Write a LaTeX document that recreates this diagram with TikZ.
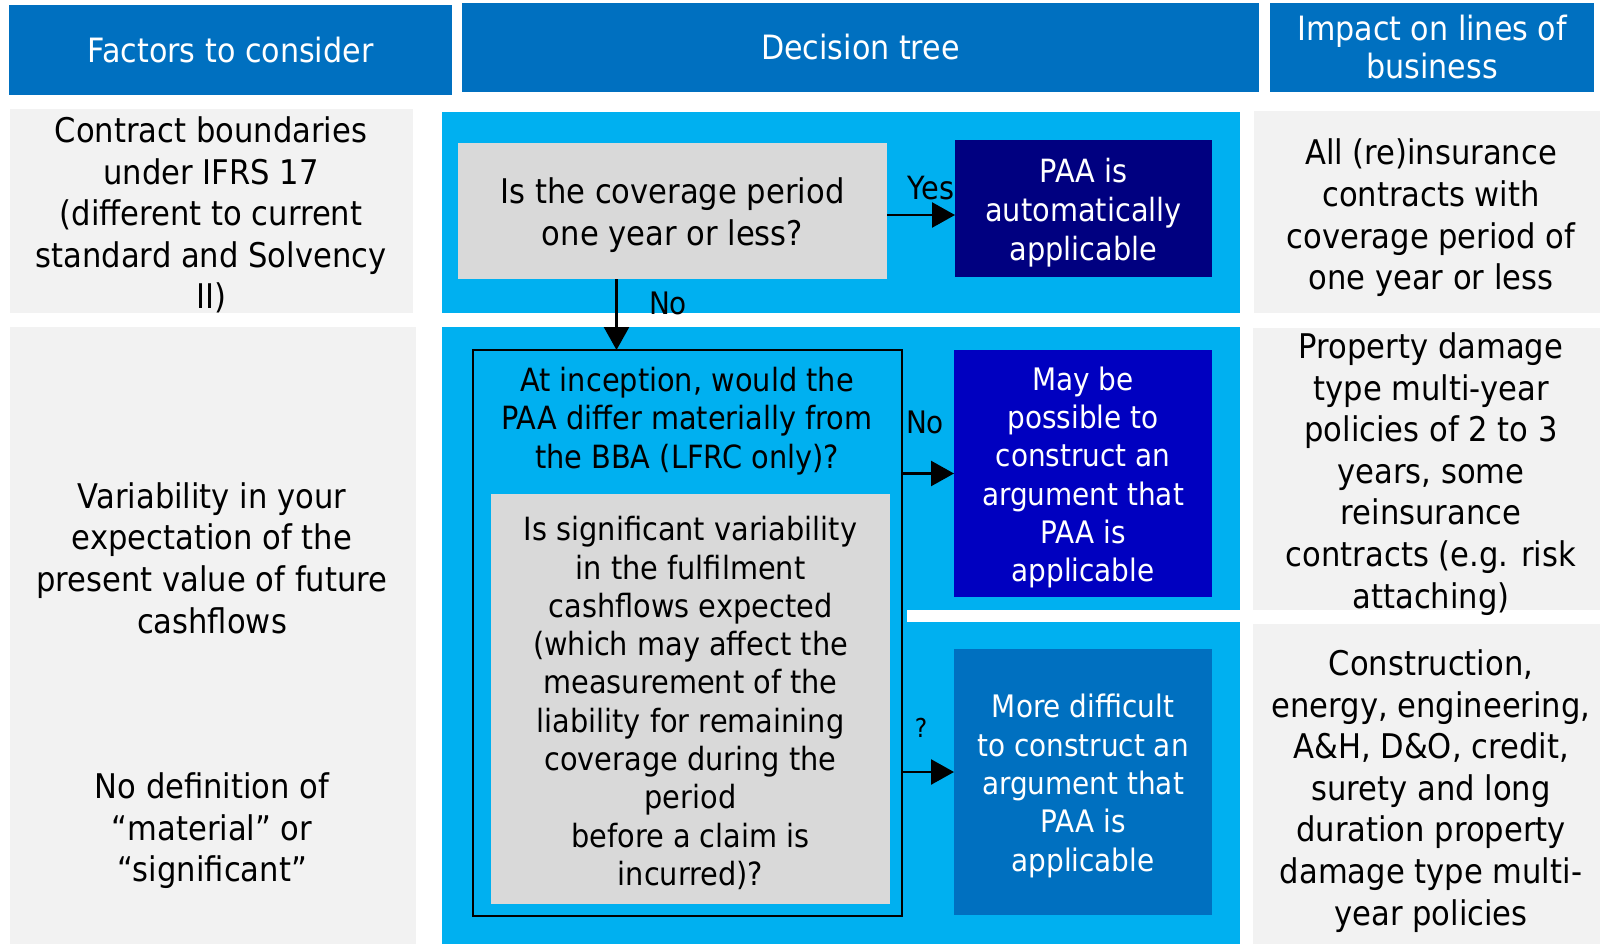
\documentclass[tikz,border=0pt]{standalone}
\usepackage{fontspec}
\setmainfont{DejaVu Sans}[FakeStretch=0.9]
\usetikzlibrary{arrows.meta}
\definecolor{hdrblue}{HTML}{0070C0}
\definecolor{panelblue}{HTML}{00B0F0}
\definecolor{factgrey}{HTML}{F2F2F2}
\definecolor{askgrey}{HTML}{D9D9D9}
\definecolor{navyfill}{HTML}{000080}
\definecolor{royalfill}{HTML}{0000C0}
\tikzset{
  block/.style={inner sep=0pt, outer sep=0pt, anchor=north west},
  hdr/.style={block, fill=hdrblue, text=white, align=center, font=\fontsize{33.5}{38}\selectfont},
  factbox/.style={block, fill=factgrey},
  panel/.style={block, fill=panelblue},
  askbox/.style={block, fill=askgrey},
  intext/.style={inner sep=0pt, align=center},
  asktext/.style={intext, font=\fontsize{32}{38.3}\selectfont},
  outtext/.style={intext, text=white, font=\fontsize{31}{38.3}\selectfont},
  coltext/.style={intext, font=\fontsize{34}{41.6}\selectfont},
  lbl/.style={inner sep=0pt, font=\fontsize{31}{36}\selectfont},
  arr/.style={line width=2.5pt, -{Triangle[length=23pt,width=25pt]}}
}
\begin{document}
\begin{tikzpicture}[x=1pt,y=-1pt]
\useasboundingbox[fill=white] (0,0) rectangle (1600,944);

% column headers
\node[hdr, minimum width=443pt, minimum height=90pt] (hdrL) at (9,5) {Factors to consider};
\node[hdr, minimum width=797pt, minimum height=89pt] (hdrM) at (462,3) {Decision tree};
\node[hdr, minimum width=324pt, minimum height=89pt] (hdrR) at (1270,3) {Impact on lines of\\business};

% factor and impact columns
\node[factbox, minimum width=403pt, minimum height=204pt] (factA) at (10,109) {};
\node[factbox, minimum width=406pt, minimum height=617pt] (factB) at (10,327) {};
\node[factbox, minimum width=346pt, minimum height=202pt] (impA) at (1254,111) {};
\node[factbox, minimum width=347pt, minimum height=282pt] (impB) at (1253,328) {};
\node[factbox, minimum width=347pt, minimum height=320pt] (impC) at (1253,624) {};

\node[coltext] (factAtxt) at (211,215) {Contract boundaries\\under IFRS 17\\(different to current\\standard and Solvency\\II)};
\node[coltext] (factBtxt) at (212,558) {Variability in your\\expectation of the\\present value of future\\cashflows};
\node[coltext] (factCtxt) at (212,831) {No definition of\\“material” or\\“significant”};
\node[coltext] (impAtxt) at (1431,218) {All (re)insurance\\contracts with\\coverage period of\\one year or less};
\node[coltext] (impBtxt) at (1431,474) {Property damage\\type multi-year\\policies of 2 to 3\\years, some\\reinsurance\\contracts (e.g. risk\\attaching)};
\node[coltext] (impCtxt) at (1431,791) {Construction,\\energy, engineering,\\A\&H, D\&O, credit,\\surety and long\\duration property\\damage type multi-\\year policies};

% decision tree panels
\node[panel, minimum width=798pt, minimum height=201pt] (panelTop) at (442,112) {};
\node[panel, minimum width=798pt, minimum height=617pt] (panelLow) at (442,327) {};
\fill[white] (907,610) rectangle (1240,622);

% questions
\node[askbox, minimum width=429pt, minimum height=136pt] (q1) at (458,143) {};
\node[asktext, font=\fontsize{34}{42}\selectfont] (q1txt) at ([yshift=-4pt]q1.center) {Is the coverage period\\one year or less?};
\node[block, draw=black, line width=2.5pt, minimum width=429pt, minimum height=566pt] (outer) at (473,350) {};
\node[asktext, font=\fontsize{32}{38.5}\selectfont] (q2) at (687,421) {At inception, would the\\PAA differ materially from\\the BBA (LFRC only)?};
\node[askbox, minimum width=399pt, minimum height=410pt] (q3) at (491,494) {};
\node[asktext] (q3txt) at ([yshift=-4pt]q3.center) {Is significant variability\\in the fulfilment\\cashflows expected\\(which may affect the\\measurement of the\\liability for remaining\\coverage during the\\period\\before a claim is\\incurred)?};

% outcomes
\node[block, fill=navyfill, minimum width=257pt, minimum height=137pt] (paa) at (955,140) {};
\node[outtext, font=\fontsize{32}{38.8}\selectfont] (paatxt) at ([yshift=-4pt]paa.center) {PAA is\\automatically\\applicable};
\node[block, fill=royalfill, minimum width=258pt, minimum height=247pt] (maybe) at (954,350) {};
\node[outtext] (maybetxt) at ([yshift=-4pt]maybe.center) {May be\\possible to\\construct an\\argument that\\PAA is\\applicable};
\node[block, fill=hdrblue, minimum width=258pt, minimum height=266pt] (harder) at (954,649) {};
\node[outtext] (hardertxt) at ([yshift=-4pt]harder.center) {More difficult\\to construct an\\argument that\\PAA is\\applicable};

% connectors
\draw[arr] ([yshift=-4pt]q1.east) -- ([yshift=-4pt]q1.east -| paa.west);
\draw[arr] ([xshift=-56pt]q1.south) -- ([xshift=-56pt]q1.south |- outer.north);
\draw[arr] (outer.east |- maybe.west) -- (maybe.west);
\draw[arr] ([yshift=10pt]outer.east |- harder.west) -- ([yshift=10pt]harder.west);

% branch labels
\node[lbl, font=\fontsize{32}{36}\selectfont] (yes) at (931,188) {Yes};
\node[lbl] (no1) at (668,303) {No};
\node[lbl] (no2) at (925,422) {No};
\node[lbl, font=\fontsize{26}{30}\selectfont] (unsure) at (921,728) {?};
\end{tikzpicture}
\end{document}
